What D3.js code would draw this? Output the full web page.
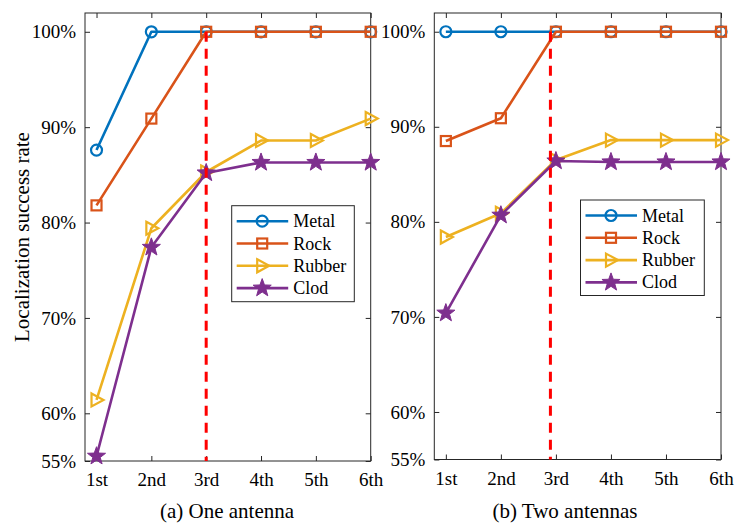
<!DOCTYPE html>
<html>
<head>
<meta charset="utf-8">
<script src="https://cdn.jsdelivr.net/npm/d3@7"></script>
<style>
  body { margin: 0; background: #fff; }
  svg text { font-family: "Liberation Serif", "Times New Roman", serif !important; }
</style>
</head>
<body>
<div id="chart-area"></div>
<script>
// data
const rounds = ["1st", "2nd", "3rd", "4th", "5th", "6th"]
const yTicks = [55, 60, 70, 80, 90, 100]
const materials = ["Metal", "Rock", "Rubber", "Clod"]

// (a) One antenna
const oneMetal  = [87.6, 100, 100, 100, 100, 100]
const oneRock   = [81.8, 90.9, 100, 100, 100, 100]
const oneRubber = [61.4, 79.4, 85.3, 88.6, 88.6, 90.9]
const oneClod   = [55.5, 77.4, 85.2, 86.3, 86.3, 86.3]

// (b) Two antennas
const twoMetal  = [100, 100, 100, 100, 100, 100]
const twoRock   = [88.5, 90.9, 100, 100, 100, 100]
const twoRubber = [78.4, 80.9, 86.5, 88.6, 88.6, 88.6]
const twoClod   = [70.4, 80.7, 86.4, 86.3, 86.3, 86.3]

const COLORS = ["#0072BD", "#D95319", "#EDB120", "#7E2F8E"]
const SHAPES = ["circle", "square", "triangle", "star"]

const svg = d3.select("#chart-area").append("svg")
  .attr("width", 735)
  .attr("height", 527)

const panels = [
  { left: 85, right: 370.7, top: 13, bottom: 461, caption: "(a) One antenna", capX: 227,
    series: [oneMetal, oneRock, oneRubber, oneClod], vline: 3,
    legend: { x: 231.7, y: 205.7, w: 122.6, h: 96 }, ylabel: true },
  { left: 434.3, right: 721, top: 13, bottom: 459.5, caption: "(b) Two antennas", capX: 565,
    series: [twoMetal, twoRock, twoRubber, twoClod], vline: 2.9,
    legend: { x: 580.5, y: 200, w: 123.8, h: 95.5 }, ylabel: false }
]

function starPath(R, r) {
  let p = []
  for (let i = 0; i < 10; i++) {
    const a = -Math.PI / 2 + i * Math.PI / 5
    const rad = i % 2 === 0 ? R : r
    p.push([rad * Math.cos(a), rad * Math.sin(a)])
  }
  return "M" + p.map(d => d.join(",")).join("L") + "Z"
}

function drawMarker(sel, shape, color) {
  if (shape === "circle") {
    sel.append("circle").attr("r", 5.5)
      .attr("fill", "none").attr("stroke", color).attr("stroke-width", 2.2)
  } else if (shape === "square") {
    sel.append("rect").attr("x", -5).attr("y", -5).attr("width", 10).attr("height", 10)
      .attr("fill", "none").attr("stroke", color).attr("stroke-width", 2.2)
  } else if (shape === "triangle") {
    sel.append("path").attr("d", "M-5,-6.5L7,0L-5,6.5Z")
      .attr("fill", "none").attr("stroke", color).attr("stroke-width", 2.2)
      .attr("stroke-linejoin", "miter")
  } else {
    sel.append("path").attr("d", starPath(9.5, 3.9))
      .attr("fill", color).attr("stroke", color).attr("stroke-width", 1)
  }
}

panels.forEach(P => {
  const x = d3.scaleLinear().domain([0.79, 6]).range([P.left, P.right])
  const y = d3.scaleLinear().domain([55, 101.97]).range([P.bottom, P.top])
  const g = svg.append("g")

  // box
  g.append("rect")
    .attr("x", P.left).attr("y", P.top)
    .attr("width", P.right - P.left).attr("height", P.bottom - P.top)
    .attr("fill", "none").attr("stroke", "#262626").attr("stroke-width", 1)

  // axes (ticks inside)
  const xAxis = g.append("g").attr("transform", `translate(0, ${P.bottom})`)
    .call(d3.axisBottom(x).tickValues(d3.range(1, 7)).tickFormat((d, i) => rounds[i])
      .tickSizeInner(-5).tickSizeOuter(0).tickPadding(12))
  xAxis.select(".domain").remove()
  xAxis.selectAll("text").attr("font-size", "19px").attr("fill", "#000")
  xAxis.selectAll("line").attr("stroke", "#262626")

  const xTop = g.append("g").attr("transform", `translate(0, ${P.top})`)
    .call(d3.axisTop(x).tickValues(d3.range(1, 7)).tickFormat("")
      .tickSizeInner(-5).tickSizeOuter(0))
  xTop.select(".domain").remove()
  xTop.selectAll("line").attr("stroke", "#262626")

  const yAxis = g.append("g").attr("transform", `translate(${P.left}, 0)`)
    .call(d3.axisLeft(y).tickValues(yTicks).tickFormat(d => d + "%")
      .tickSizeInner(-5).tickSizeOuter(0).tickPadding(9))
  yAxis.select(".domain").remove()
  yAxis.selectAll("text").attr("font-size", "19px").attr("fill", "#000")
  yAxis.selectAll("line").attr("stroke", "#262626")

  const yRight = g.append("g").attr("transform", `translate(${P.right}, 0)`)
    .call(d3.axisRight(y).tickValues(yTicks).tickFormat("")
      .tickSizeInner(-5).tickSizeOuter(0))
  yRight.select(".domain").remove()
  yRight.selectAll("line").attr("stroke", "#262626")

  // series
  const line = d3.line().x((d, i) => x(i + 1)).y(d => y(d))
  P.series.forEach((s, k) => {
    g.append("path").datum(s)
      .attr("d", line)
      .attr("fill", "none")
      .attr("stroke", COLORS[k])
      .attr("stroke-width", 2.6)
      .attr("stroke-linejoin", "round")
    s.forEach((v, i) => {
      const m = g.append("g").attr("transform", `translate(${x(i + 1)}, ${y(v)})`)
      drawMarker(m, SHAPES[k], COLORS[k])
    })
  })

  // red dashed marker line
  g.append("line")
    .attr("x1", x(P.vline)).attr("x2", x(P.vline))
    .attr("y1", y(100)).attr("y2", y(55))
    .attr("stroke", "#FF0000").attr("stroke-width", 3)
    .attr("stroke-dasharray", "10,7")

  // legend
  const L = P.legend
  const lg = g.append("g").attr("transform", `translate(${L.x}, ${L.y})`)
  lg.append("rect").attr("width", L.w).attr("height", L.h)
    .attr("fill", "#fff").attr("stroke", "#262626").attr("stroke-width", 1)
  materials.forEach((name, k) => {
    const row = lg.append("g").attr("transform", `translate(0, ${15.5 + k * 22.3})`)
    row.append("line").attr("x1", 5).attr("x2", 56.5)
      .attr("stroke", COLORS[k]).attr("stroke-width", 2.6)
    const m = row.append("g").attr("transform", "translate(30.5, 0)")
    drawMarker(m, SHAPES[k], COLORS[k])
    row.append("text").attr("x", 61.5).attr("y", 6)
      .attr("font-size", "18px").text(name)
  })

  // caption
  g.append("text")
    .attr("x", P.capX).attr("y", 518)
    .attr("text-anchor", "middle")
    .attr("font-size", "21px")
    .text(P.caption)

  if (P.ylabel) {
    g.append("text")
      .attr("transform", `translate(29, ${(P.top + P.bottom) / 2}) rotate(-90)`)
      .attr("text-anchor", "middle")
      .attr("font-size", "21px")
      .text("Localization success rate")
  }
})
</script>
</body>
</html>
